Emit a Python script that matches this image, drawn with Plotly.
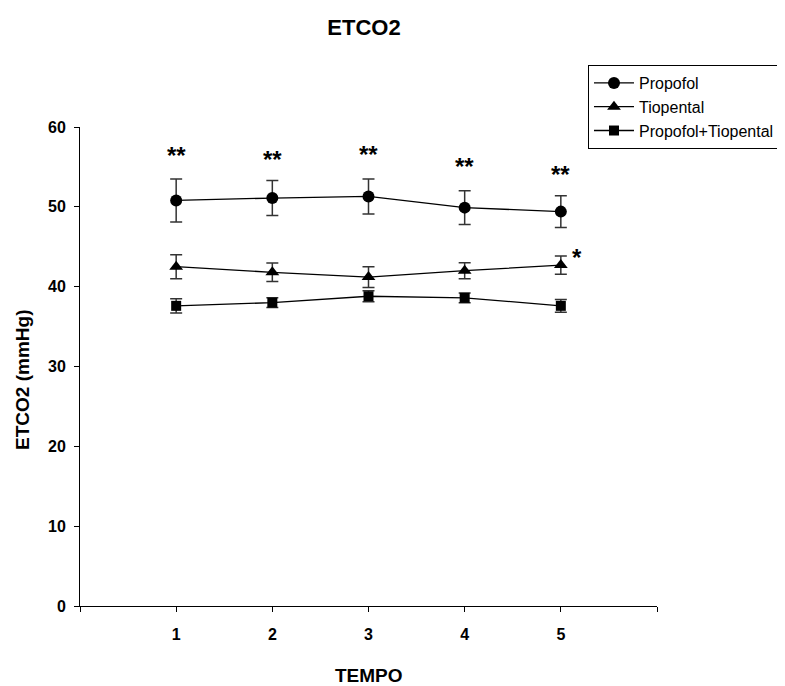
import plotly.graph_objects as go

tempo = [1, 2, 3, 4, 5]
propofol = [50.8, 51.1, 51.3, 49.9, 49.4]
propofol_err = [2.7, 2.2, 2.2, 2.1, 2.0]
tiopental = [42.5, 41.8, 41.2, 42.0, 42.7]
tiopental_err = [1.5, 1.15, 1.3, 1.0, 1.15]
combo = [37.6, 38.0, 38.8, 38.6, 37.6]
combo_err = [0.9, 0.6, 0.7, 0.6, 0.8]
star_labels = ["**", "**", "**", "**", "**"]
star_y = [56.4, 55.9, 56.5, 55.1, 54.1]
single_star_x = 5.17
single_star_y = 43.6

FONT = "Liberation Sans, Arial, sans-serif"
fig = go.Figure()

def add(name, y, err, symbol, size):
    fig.add_trace(go.Scatter(
        x=tempo, y=y, name=name, mode="lines+markers",
        line=dict(color="black", width=1.3),
        marker=dict(symbol=symbol, size=size, color="black"),
        error_y=dict(type="data", array=err, visible=True, color="#333333",
                     thickness=1.5, width=6),
    ))

add("Propofol", propofol, propofol_err, "circle", 12)
add("Tiopental", tiopental, tiopental_err, "triangle-up", 12)
add("Propofol+Tiopental", combo, combo_err, "square", 10)

for x, y, t in zip(tempo, star_y, star_labels):
    fig.add_annotation(x=x, y=y, text="<b>%s</b>" % t, showarrow=False,
                       font=dict(family=FONT, size=24, color="black"))
fig.add_annotation(x=single_star_x, y=single_star_y, text="<b>*</b>", showarrow=False,
                   font=dict(family=FONT, size=24, color="black"))

# axis titles as annotations
fig.add_annotation(x=0.501, y=-0.146, xref="paper", yref="paper", text="<b>TEMPO</b>",
                   showarrow=False, xanchor="center", yanchor="middle",
                   font=dict(family=FONT, size=19, color="black"))
fig.add_annotation(x=-0.0988, y=0.472, xref="paper", yref="paper", text="<b>ETCO2 (mmHg)</b>",
                   showarrow=False, xanchor="center", yanchor="middle", textangle=-90,
                   font=dict(family=FONT, size=19, color="black"))

fig.update_layout(
    width=785, height=686,
    paper_bgcolor="white", plot_bgcolor="white",
    margin=dict(l=72, r=136, t=119, b=88, autoexpand=False),
    title=dict(text="<b>ETCO2</b>", x=0.4535, xanchor="center", y=0.972, yanchor="middle",
               font=dict(family=FONT, size=22, color="black")),
    font=dict(family=FONT, color="black"),
    showlegend=True,
    legend=dict(x=0.8804, xanchor="left", y=1.1294, yanchor="top",
                bordercolor="black", borderwidth=1, bgcolor="white",
                font=dict(family=FONT, size=16, color="black"),
                tracegroupgap=0, itemwidth=40),
    xaxis=dict(range=[0, 6], tickvals=[0, 1, 2, 3, 4, 5, 6],
               ticktext=["", "<b>1</b>", "<b>2</b>", "<b>3</b>", "<b>4</b>", "<b>5</b>", ""],
               showgrid=False, zeroline=False, showline=True, linecolor="black",
               linewidth=1, ticks="outside", ticklen=5, tickcolor="black",
               ticklabelstandoff=9,
               tickfont=dict(family=FONT, size=16), automargin=False),
    yaxis=dict(range=[0, 60], tickvals=[0, 10, 20, 30, 40, 50, 60],
               ticktext=["<b>%d</b>" % v for v in [0, 10, 20, 30, 40, 50, 60]],
               showgrid=False, zeroline=False, showline=True, linecolor="black",
               linewidth=1, ticks="outside", ticklen=5, tickcolor="black",
               ticklabelstandoff=5,
               tickfont=dict(family=FONT, size=16), automargin=False),
)

fig.write_html("out.html")
